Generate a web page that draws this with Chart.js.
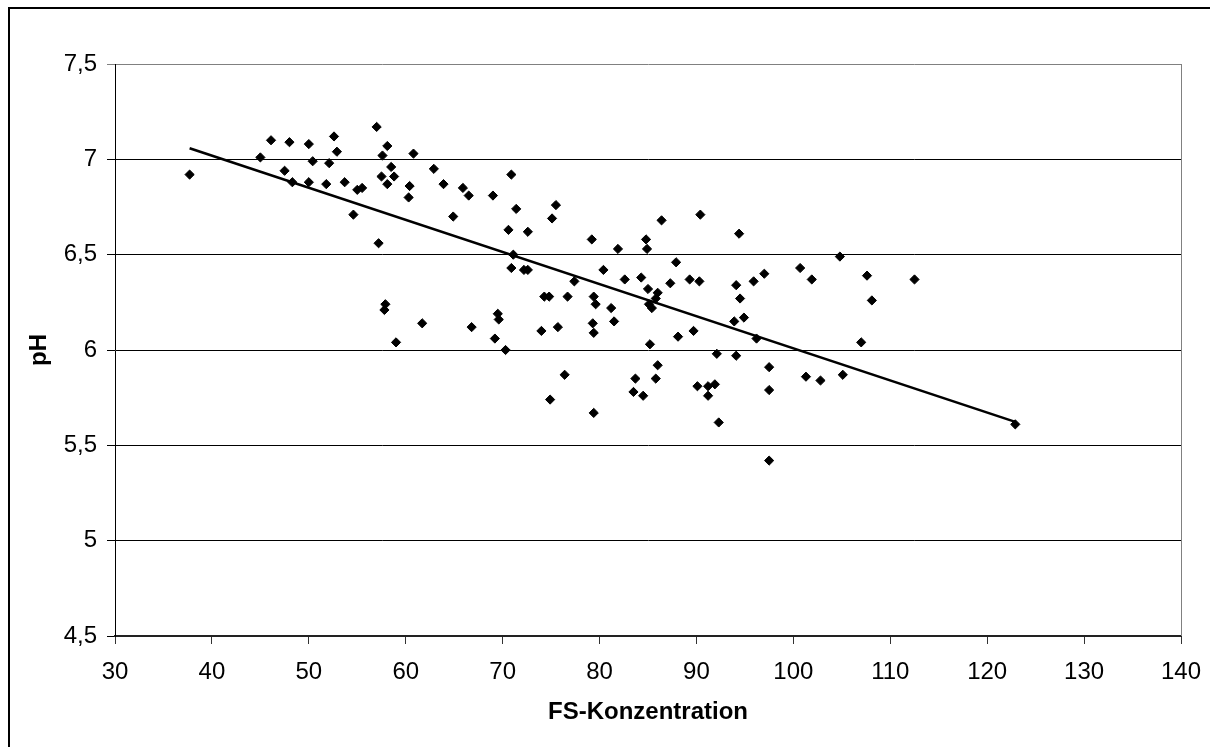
<!DOCTYPE html>
<html>
<head>
<meta charset="utf-8">
<script src="https://cdn.jsdelivr.net/npm/chart.js@4"></script>
<style>
  html, body { margin: 0; padding: 0; background: #fff; }
  #wrap { position: relative; width: 1210px; height: 747px; }
  canvas { display: block; }
</style>
</head>
<body>
<div id="wrap"><canvas id="c" width="1210" height="747"></canvas></div>
<script>
// FS-Konzentration (x) and pH (y) of each sample
const fsX = [
  37.7, 45.0, 46.1, 48.0, 47.5, 48.3, 50.0, 50.4, 50.0, 52.6,
  52.9, 52.1, 51.8, 53.7, 55.0, 55.5, 54.6, 57.0, 58.1, 57.6,
  58.5, 57.5, 58.8, 58.1, 60.8, 60.4, 60.3, 57.2, 62.9, 63.9,
  65.9, 66.5, 64.9, 69.0, 57.9, 57.8, 61.7, 66.8, 59.0, 69.5,
  69.6, 69.2, 70.9, 71.4, 75.5, 75.1, 70.6, 72.6, 71.1, 70.9,
  72.2, 72.6, 79.2, 81.9, 84.8, 84.9, 86.4, 90.4, 94.4, 87.9,
  80.4, 77.4, 82.6, 84.3, 85.0, 86.0, 85.8, 85.1, 85.4, 87.3,
  89.3, 90.3, 94.1, 95.9, 97.0, 100.7, 101.9, 104.8, 107.6, 108.1,
  94.5, 94.9, 93.9, 74.3, 74.8, 76.7, 79.4, 79.6, 81.2, 74.0,
  75.7, 79.3, 81.5, 79.4, 88.1, 89.7, 96.2, 70.3, 85.2, 92.1,
  94.1, 107.0, 86.0, 85.8, 83.7, 83.5, 84.5, 76.4, 74.9, 79.4,
  90.1, 91.2, 91.9, 91.2, 92.3, 97.5, 97.5, 97.5, 101.3, 102.8,
  105.1, 112.5, 122.9
];
const phY = [
  6.92, 7.01, 7.10, 7.09, 6.94, 6.88, 7.08, 6.99, 6.88, 7.12,
  7.04, 6.98, 6.87, 6.88, 6.84, 6.85, 6.71, 7.17, 7.07, 7.02,
  6.96, 6.91, 6.91, 6.87, 7.03, 6.86, 6.80, 6.56, 6.95, 6.87,
  6.85, 6.81, 6.70, 6.81, 6.24, 6.21, 6.14, 6.12, 6.04, 6.19,
  6.16, 6.06, 6.92, 6.74, 6.76, 6.69, 6.63, 6.62, 6.50, 6.43,
  6.42, 6.42, 6.58, 6.53, 6.58, 6.53, 6.68, 6.71, 6.61, 6.46,
  6.42, 6.36, 6.37, 6.38, 6.32, 6.30, 6.27, 6.24, 6.22, 6.35,
  6.37, 6.36, 6.34, 6.36, 6.40, 6.43, 6.37, 6.49, 6.39, 6.26,
  6.27, 6.17, 6.15, 6.28, 6.28, 6.28, 6.28, 6.24, 6.22, 6.10,
  6.12, 6.14, 6.15, 6.09, 6.07, 6.10, 6.06, 6.00, 6.03, 5.98,
  5.97, 6.04, 5.92, 5.85, 5.85, 5.78, 5.76, 5.87, 5.74, 5.67,
  5.81, 5.81, 5.82, 5.76, 5.62, 5.91, 5.79, 5.42, 5.86, 5.84,
  5.87, 6.37, 5.61
];
// Linear trend line end points
const trendX = [37.7, 122.9];
const trendY = [7.058, 5.623];
// Axis ticks
const xTickValues = [30, 40, 50, 60, 70, 80, 90, 100, 110, 120, 130, 140];
const yTickLabels = ['4,5', '5', '5,5', '6', '6,5', '7', '7,5'];

const scatterData = fsX.map((x, i) => ({ x: x, y: phY[i] }));
const trendData = trendX.map((x, i) => ({ x: x, y: trendY[i] }));

const FONT = "'Liberation Sans', Arial, sans-serif";

const framePlugin = {
  id: 'frame',
  afterDraw(chart) {
    const ctx = chart.ctx;
    const a = chart.chartArea;
    ctx.save();
    // right border of plot area (grey)
    ctx.strokeStyle = '#808080';
    ctx.lineWidth = 1;
    ctx.beginPath();
    ctx.moveTo(Math.round(a.right) + 0.5, a.top);
    ctx.lineTo(Math.round(a.right) + 0.5, a.bottom);
    ctx.stroke();
    // outer frame (left + top visible)
    ctx.strokeStyle = '#000';
    ctx.lineWidth = 2;
    ctx.beginPath();
    ctx.moveTo(9, 747);
    ctx.lineTo(9, 8);
    ctx.lineTo(1210, 8);
    ctx.stroke();
    ctx.restore();
  }
};

new Chart(document.getElementById('c'), {
  type: 'scatter',
  data: {
    datasets: [
      {
        label: 'Trend',
        type: 'line',
        data: trendData,
        borderColor: '#000',
        borderWidth: 2.6,
        pointRadius: 0,
        fill: false,
        tension: 0,
        order: 0
      },
      {
        label: 'pH',
        data: scatterData,
        pointStyle: 'rectRot',
        pointRadius: 4.6,
        pointBorderWidth: 1,
        backgroundColor: '#000',
        borderColor: '#000',
        order: 1
      }
    ]
  },
  options: {
    responsive: false,
    animation: false,
    devicePixelRatio: 1,
    layout: { padding: { top: 64, right: 29, left: 0, bottom: 0 } },
    plugins: {
      legend: { display: false },
      tooltip: { enabled: false }
    },
    scales: {
      x: {
        type: 'linear',
        min: 30,
        max: 140,
        afterBuildTicks(scale) {
          scale.ticks = xTickValues.map(v => ({ value: v }));
        },
        afterFit(scale) {
          scale.height = 111;
          scale.paddingRight = 0;
          scale.paddingLeft = 0;
        },
        ticks: {
          color: '#000',
          font: { family: FONT, size: 24 },
          padding: 14,
          maxRotation: 0,
          autoSkip: false,
          callback: v => String(v)
        },
        grid: {
          drawOnChartArea: false,
          drawTicks: true,
          tickLength: 8,
          color: '#333'
        },
        border: { display: true, color: '#222', width: 2 },
        title: {
          display: true,
          text: 'FS-Konzentration',
          color: '#000',
          font: { family: FONT, size: 24, weight: 'bold' },
          padding: { top: 0, bottom: 20 }
        }
      },
      y: {
        type: 'linear',
        min: 4.5,
        max: 7.5,
        afterFit(scale) { scale.width = 115; },
        ticks: {
          stepSize: 0.5,
          color: '#000',
          font: { family: FONT, size: 24 },
          padding: 10,
          autoSkip: false,
          callback: (v, i) => yTickLabels[i]
        },
        grid: {
          drawTicks: true,
          tickLength: 8,
          color: ctx => (ctx.tick && ctx.tick.value === 7.5) ? '#808080' : '#000',
          lineWidth: 1
        },
        border: { display: true, color: '#000', width: 1 },
        title: {
          display: true,
          text: 'pH',
          color: '#000',
          font: { family: FONT, size: 24, weight: 'bold' },
          padding: { top: 25, bottom: 0 }
        }
      }
    }
  },
  plugins: [framePlugin]
});
</script>
</body>
</html>
